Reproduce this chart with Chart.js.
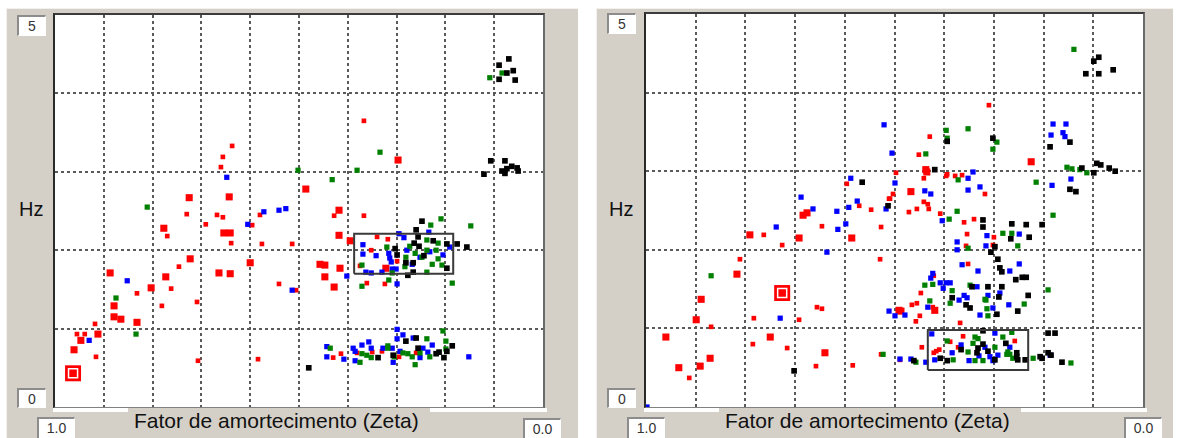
<!DOCTYPE html>
<html>
<head>
<meta charset="utf-8">
<script src="https://cdn.jsdelivr.net/npm/chart.js@4.4.1/dist/chart.umd.min.js"></script>
<style>
  html, body { margin: 0; padding: 0; background: #fff; }
  body { width: 1178px; height: 438px; position: relative; overflow: hidden;
         font-family: "Liberation Sans", Arial, sans-serif; }
  .panel { position: absolute; top: 8px; height: 440px; background: #d4d0c8;
           border-top: 1px solid #f2f1ed; border-left: 1px solid #f2f1ed; }
  .frame { position: absolute; background: #fff;
           border-top: 2px solid #3c3c3c; border-left: 2px solid #2a2a2a;
           border-right: 2px solid #6a6a6a; border-bottom: 1px solid #808080; }
  .frame canvas { display: block; }
  .strip { position: absolute; height: 4px; background: #fff; }
  .vbox { position: absolute; background: #fff; color: #333; font-size: 14px;
          text-align: center; line-height: 18px; box-sizing: border-box;
          border-top: 2px solid #8c8c8c; border-left: 2px solid #8c8c8c;
          border-right: 1px solid #fff; border-bottom: 1px solid #fff; }
  .hz { position: absolute; font-size: 20px; line-height: 20px; color: #111; }
  .xtitle { position: absolute; top: 408px; height: 30px; width: 302px; box-sizing: border-box;
            padding: 2px 0 0 6px; background: #d4d0c8; font-size: 21px; line-height: 21px;
            color: #111; white-space: nowrap; }
</style>
</head>
<body>
<div class="panel" style="left:6px; width:571px;"></div>
<div class="panel" style="left:596px; width:576px;"></div>

<div class="strip" style="left:53px; top:408px; width:494px;"></div>
<div class="strip" style="left:644px; top:408px; width:503px;"></div>

<div class="frame" style="left:53px; top:13px; width:488px; height:392px;">
  <canvas id="leftChart" width="488" height="392"></canvas>
</div>
<div class="frame" style="left:644px; top:12px; width:497px; height:393px;">
  <canvas id="rightChart" width="497" height="393"></canvas>
</div>

<div class="vbox" style="left:17px; top:15px; width:29px; height:21px;">5</div>
<div class="vbox" style="left:17px; top:388px; width:29px; height:20px;">0</div>
<div class="vbox" style="left:37px; top:417px; width:38px; height:24px;">1.0</div>
<div class="vbox" style="left:523px; top:418px; width:38px; height:24px;">0.0</div>
<div class="hz" style="left:19px; top:199px;">Hz</div>
<div class="xtitle" style="left:128px;">Fator de amortecimento (Zeta)</div>

<div class="vbox" style="left:607px; top:13px; width:29px; height:21px;">5</div>
<div class="vbox" style="left:607px; top:388px; width:29px; height:20px;">0</div>
<div class="vbox" style="left:627px; top:417px; width:38px; height:24px;">1.0</div>
<div class="vbox" style="left:1124px; top:417px; width:38px; height:24px;">0.0</div>
<div class="hz" style="left:609px; top:199px;">Hz</div>
<div class="xtitle" style="left:719px;">Fator de amortecimento (Zeta)</div>

<script>
// eixos: zeta de 1.0 (esquerda) a 0.0 (direita), frequência 0..5 Hz
const zetaRange = [0, 1];
const hzRange = [0, 5];
const zetaStep = 0.1;
const hzStep = 1;

// ---- painel esquerdo: [zeta, Hz] ----
const leftRedLarge = [[0.725,2.67],[0.643,2.68],[0.777,2.28],[0.654,2.22],[0.641,2.22],[0.723,1.89],[0.887,1.71],[0.664,1.71],[0.641,1.70],[0.600,1.84],[0.773,1.66],[0.803,1.52],[0.879,1.29],[0.879,1.15],[0.865,1.12],[0.832,1.08],[0.912,0.93],[0.947,0.85],[0.961,0.73],[0.297,3.15],[0.418,2.51],[0.486,2.78],[0.418,2.19],[0.395,2.12],[0.416,1.77],[0.457,1.82],[0.447,1.81],[0.447,1.66],[0.428,1.53],[0.322,1.77]];
const leftRedSmall = [[0.637,3.33],[0.656,3.19],[0.660,3.06],[0.730,2.46],[0.668,2.45],[0.656,2.42],[0.580,2.45],[0.367,3.65],[0.428,2.44],[0.367,2.44],[0.770,2.18],[0.691,2.33],[0.596,2.32],[0.639,2.09],[0.576,2.08],[0.514,2.08],[0.746,1.79],[0.762,1.51],[0.832,1.45],[0.541,1.57],[0.506,1.49],[0.781,1.29],[0.709,1.34],[0.918,1.06],[0.955,0.93],[0.939,0.93],[0.916,0.64],[0.707,0.59],[0.584,0.61],[0.340,2.17],[0.318,2.14],[0.352,2.00],[0.375,1.80],[0.299,1.86],[0.236,1.99],[0.361,1.58],[0.324,1.57],[0.414,0.68],[0.430,0.63],[0.381,0.69],[0.350,0.70],[0.330,0.71],[0.295,0.64],[0.260,0.69]];
const leftBlue = [[0.648,2.93],[0.572,2.49],[0.541,2.51],[0.527,2.53],[0.605,2.33],[0.852,1.61],[0.514,1.49],[0.930,0.85],[0.234,2.23],[0.295,2.21],[0.285,2.16],[0.191,2.04],[0.369,2.07],[0.369,1.95],[0.342,1.93],[0.316,1.96],[0.314,1.90],[0.311,1.85],[0.279,2.00],[0.252,1.91],[0.232,1.98],[0.205,1.94],[0.268,1.82],[0.363,1.72],[0.352,1.71],[0.309,1.76],[0.301,1.76],[0.330,1.72],[0.402,1.67],[0.299,1.57],[0.299,0.99],[0.287,0.92],[0.299,0.87],[0.266,0.88],[0.227,0.79],[0.357,0.83],[0.328,0.75],[0.352,0.75],[0.371,0.79],[0.389,0.75],[0.385,0.71],[0.443,0.77],[0.443,0.64],[0.408,0.61],[0.385,0.59],[0.307,0.57],[0.309,0.75],[0.293,0.71],[0.252,0.63],[0.246,0.75],[0.236,0.70],[0.152,0.64]];
const leftGreen = [[0.811,2.55],[0.502,3.02],[0.084,4.26],[0.109,4.20],[0.334,3.25],[0.381,3.02],[0.432,2.90],[0.209,2.40],[0.875,1.39],[0.834,0.93],[0.148,2.31],[0.230,2.32],[0.238,2.13],[0.215,2.09],[0.320,2.04],[0.273,2.05],[0.262,1.96],[0.248,1.91],[0.238,2.00],[0.219,2.00],[0.215,1.89],[0.281,1.91],[0.227,1.82],[0.207,1.81],[0.283,1.79],[0.238,1.72],[0.371,1.81],[0.371,1.54],[0.316,1.62],[0.309,1.71],[0.186,1.58],[0.205,0.97],[0.238,0.87],[0.199,0.84],[0.199,0.74],[0.318,0.78],[0.436,0.75],[0.375,0.57],[0.371,0.68],[0.361,0.66],[0.352,0.63],[0.305,0.64],[0.318,0.75],[0.287,0.69],[0.277,0.68],[0.268,0.64],[0.262,0.54],[0.252,0.69],[0.232,0.64]];
const leftBlack = [[0.090,4.36],[0.070,4.44],[0.074,4.26],[0.061,4.29],[0.090,4.18],[0.057,4.17],[0.107,3.14],[0.078,3.14],[0.121,2.97],[0.084,3.01],[0.074,3.04],[0.064,3.07],[0.053,3.05],[0.078,2.98],[0.051,3.01],[0.248,2.37],[0.260,2.26],[0.256,2.17],[0.225,2.12],[0.197,2.08],[0.176,2.08],[0.156,2.04],[0.303,2.02],[0.299,1.94],[0.264,2.09],[0.254,2.05],[0.244,1.93],[0.266,1.84],[0.281,1.84],[0.277,1.68],[0.266,1.72],[0.197,1.77],[0.281,0.84],[0.260,0.88],[0.186,0.78],[0.197,0.71],[0.480,0.50],[0.338,0.63],[0.307,0.66],[0.256,0.75],[0.219,0.68],[0.213,0.70],[0.203,0.63]];
const leftSelected = [[0.963,0.43]];
const leftBoxZeta = [0.387, 0.184];
const leftBoxHz = [1.70, 2.21];

// ---- painel direito: [zeta, Hz] ----
const rightRedLarge = [[0.684,2.44],[0.676,2.47],[0.467,2.74],[0.437,3.02],[0.435,2.99],[0.586,2.15],[0.791,2.19],[0.692,2.15],[0.817,1.69],[0.889,1.37],[0.899,1.11],[0.960,0.89],[0.750,0.89],[0.640,0.69],[0.871,0.62],[0.891,0.52],[0.934,0.50],[0.491,1.23],[0.487,1.22],[0.419,1.23],[0.225,3.12]];
const rightRedSmall = [[0.596,2.84],[0.571,2.56],[0.547,2.51],[0.511,2.65],[0.310,3.84],[0.429,3.44],[0.451,3.21],[0.497,2.98],[0.441,2.91],[0.394,2.96],[0.396,2.94],[0.378,2.94],[0.364,2.95],[0.318,2.71],[0.503,2.71],[0.509,2.65],[0.441,2.61],[0.433,2.58],[0.431,2.52],[0.471,2.48],[0.455,2.52],[0.408,2.46],[0.360,2.35],[0.340,2.39],[0.527,2.29],[0.354,2.20],[0.300,2.16],[0.356,2.05],[0.302,2.06],[0.529,1.88],[0.352,1.82],[0.421,1.67],[0.447,1.45],[0.455,1.32],[0.465,1.30],[0.423,1.27],[0.457,1.09],[0.449,1.16],[0.368,1.07],[0.763,2.19],[0.726,2.06],[0.646,2.30],[0.811,1.88],[0.656,1.27],[0.646,1.25],[0.783,1.13],[0.692,1.11],[0.869,1.02],[0.785,0.80],[0.716,0.75],[0.527,0.67],[0.658,0.52],[0.584,0.53],[0.913,0.37],[0.362,0.90],[0.258,0.84],[0.388,0.83],[0.372,0.76],[0.416,0.71],[0.410,0.73],[0.421,0.69],[0.445,0.76],[0.489,0.60]];
const rightBlue = [[0.521,3.59],[0.505,3.23],[0.588,2.91],[0.688,2.67],[0.664,2.52],[0.616,2.49],[0.592,2.54],[0.575,2.62],[0.517,2.52],[0.499,2.85],[0.342,2.99],[0.352,2.91],[0.439,2.75],[0.427,2.71],[0.352,2.76],[0.328,2.80],[0.404,2.37],[0.181,3.60],[0.155,3.60],[0.185,3.46],[0.161,3.49],[0.157,3.44],[0.183,2.82],[0.145,2.90],[0.598,2.33],[0.738,2.29],[0.614,2.26],[0.636,1.97],[0.730,1.13],[0.511,1.22],[0.314,2.18],[0.249,2.20],[0.374,2.10],[0.316,2.05],[0.374,2.00],[0.364,1.81],[0.249,1.82],[0.332,1.73],[0.268,1.73],[0.423,1.70],[0.427,1.64],[0.408,1.58],[0.396,1.58],[0.388,1.58],[0.334,1.53],[0.402,1.51],[0.288,1.45],[0.360,1.42],[0.354,1.39],[0.370,1.36],[0.433,1.27],[0.499,1.16],[0.479,1.17],[0.328,1.17],[0.302,1.26],[0.270,1.30],[0.312,1.42],[0.425,0.93],[0.298,0.94],[0.366,0.79],[0.384,0.69],[0.318,0.76],[0.268,0.76],[0.292,0.66],[0.308,0.64],[0.302,0.59],[0.419,0.60],[0.350,0.59],[0.330,0.65],[0.437,0.57],[0.489,0.61],[0.467,0.61],[0.187,0.66],[0.998,0.00]];
const rightGreen = [[0.139,4.55],[0.396,3.52],[0.352,3.54],[0.394,3.42],[0.294,3.37],[0.302,3.28],[0.437,3.22],[0.372,2.89],[0.215,2.86],[0.153,3.05],[0.143,3.03],[0.127,3.02],[0.113,2.98],[0.181,2.44],[0.374,2.49],[0.390,2.39],[0.282,2.21],[0.264,2.21],[0.352,2.02],[0.252,2.05],[0.439,1.55],[0.423,1.56],[0.348,1.55],[0.384,1.48],[0.191,1.49],[0.318,1.37],[0.388,1.32],[0.429,1.35],[0.316,1.36],[0.314,1.25],[0.312,1.16],[0.239,1.31],[0.869,1.67],[0.523,0.67],[0.264,0.95],[0.282,0.89],[0.338,0.89],[0.332,0.87],[0.394,0.84],[0.352,0.70],[0.342,0.81],[0.298,0.76],[0.272,0.70],[0.274,0.67],[0.268,0.67],[0.262,0.62],[0.322,0.59],[0.382,0.60],[0.338,0.59],[0.457,0.57],[0.221,0.62],[0.145,0.56]];
const rightBlack = [[0.099,4.40],[0.089,4.45],[0.115,4.24],[0.089,4.24],[0.060,4.29],[0.565,2.86],[0.513,2.56],[0.394,3.38],[0.302,3.42],[0.419,3.02],[0.147,3.37],[0.187,3.31],[0.123,3.04],[0.099,2.98],[0.093,3.10],[0.085,3.08],[0.068,3.04],[0.056,3.00],[0.147,2.77],[0.135,2.74],[0.322,2.38],[0.322,2.29],[0.264,2.33],[0.235,2.32],[0.203,2.32],[0.266,2.14],[0.229,2.16],[0.298,2.04],[0.306,1.97],[0.292,1.88],[0.288,1.77],[0.284,1.72],[0.243,1.65],[0.235,1.65],[0.256,1.62],[0.344,1.53],[0.312,1.53],[0.284,1.53],[0.231,1.42],[0.384,1.39],[0.356,1.30],[0.348,1.26],[0.294,1.18],[0.252,1.22],[0.290,1.40],[0.191,0.94],[0.177,0.94],[0.322,0.97],[0.366,0.73],[0.332,0.75],[0.322,0.80],[0.334,0.69],[0.312,0.71],[0.276,0.81],[0.254,0.69],[0.298,0.60],[0.254,0.64],[0.252,0.60],[0.237,0.60],[0.408,0.62],[0.394,0.59],[0.461,0.59],[0.207,0.64],[0.203,0.62],[0.191,0.69],[0.185,0.66],[0.163,0.57],[0.702,0.46]];
const rightSelected = [[0.726,1.45]];
const rightBoxZeta = [0.433, 0.231];
const rightBoxHz = [0.47, 0.98];

const toPoints = arr => arr.map(p => ({ x: p[0], y: p[1] }));

function boxOutline(zs, hs) {
  return [
    { x: zs[0], y: hs[0] }, { x: zs[1], y: hs[0] }, { x: zs[1], y: hs[1] },
    { x: zs[0], y: hs[1] }, { x: zs[0], y: hs[0] }
  ];
}

function squares(data, color, r) {
  return { type: 'scatter', data: toPoints(data), pointStyle: 'rect', pointRadius: r,
           pointHoverRadius: r, backgroundColor: color, borderColor: color, borderWidth: 0 };
}

function gridColor(ctx) {
  const n = ctx.scale.ticks.length;
  return (ctx.index === 0 || ctx.index === n - 1) ? 'rgba(0,0,0,0)' : '#5a5a5a';
}

function makeChart(id, s) {
  new Chart(document.getElementById(id), {
    type: 'scatter',
    data: {
      datasets: [
        // marcador selecionado (quadrado vermelho com anel branco)
        { type: 'scatter', data: toPoints(s.selected), pointStyle: 'rect', pointRadius: 6.4,
          backgroundColor: '#ff0000', borderColor: '#ffffff', borderWidth: 1.5 },
        { type: 'scatter', data: toPoints(s.selected), pointStyle: 'rect', pointRadius: 11.3,
          backgroundColor: '#ff0000', borderWidth: 0 },
        // retangulo de seleção
        { type: 'scatter', data: boxOutline(s.boxZ, s.boxH), showLine: true, pointRadius: 0,
          borderColor: '#3a3a3a', borderWidth: 2, fill: false, tension: 0 },
        squares(s.black, '#000000', 4),
        squares(s.green, '#008000', 3.7),
        squares(s.blue, '#0000ff', 3.7),
        squares(s.redSmall, '#ff0000', 3.3),
        squares(s.redLarge, '#ff0000', 5)
      ]
    },
    options: {
      responsive: false,
      animation: false,
      devicePixelRatio: 1,
      layout: { padding: 0, autoPadding: false },
      plugins: { legend: { display: false }, tooltip: { enabled: false } },
      scales: {
        x: {
          type: 'linear', min: zetaRange[0], max: zetaRange[1], reverse: true,
          ticks: { display: false, stepSize: zetaStep },
          grid: { color: gridColor, lineWidth: 2, drawTicks: false },
          border: { display: false, dash: [3, 3] }
        },
        y: {
          type: 'linear', min: hzRange[0], max: hzRange[1],
          ticks: { display: false, stepSize: hzStep },
          grid: { color: gridColor, lineWidth: 2, drawTicks: false },
          border: { display: false, dash: [3, 3] }
        }
      }
    }
  });
}

makeChart('leftChart', {
  redLarge: leftRedLarge, redSmall: leftRedSmall, blue: leftBlue, green: leftGreen,
  black: leftBlack, selected: leftSelected, boxZ: leftBoxZeta, boxH: leftBoxHz
});
makeChart('rightChart', {
  redLarge: rightRedLarge, redSmall: rightRedSmall, blue: rightBlue, green: rightGreen,
  black: rightBlack, selected: rightSelected, boxZ: rightBoxZeta, boxH: rightBoxHz
});
</script>
</body>
</html>
